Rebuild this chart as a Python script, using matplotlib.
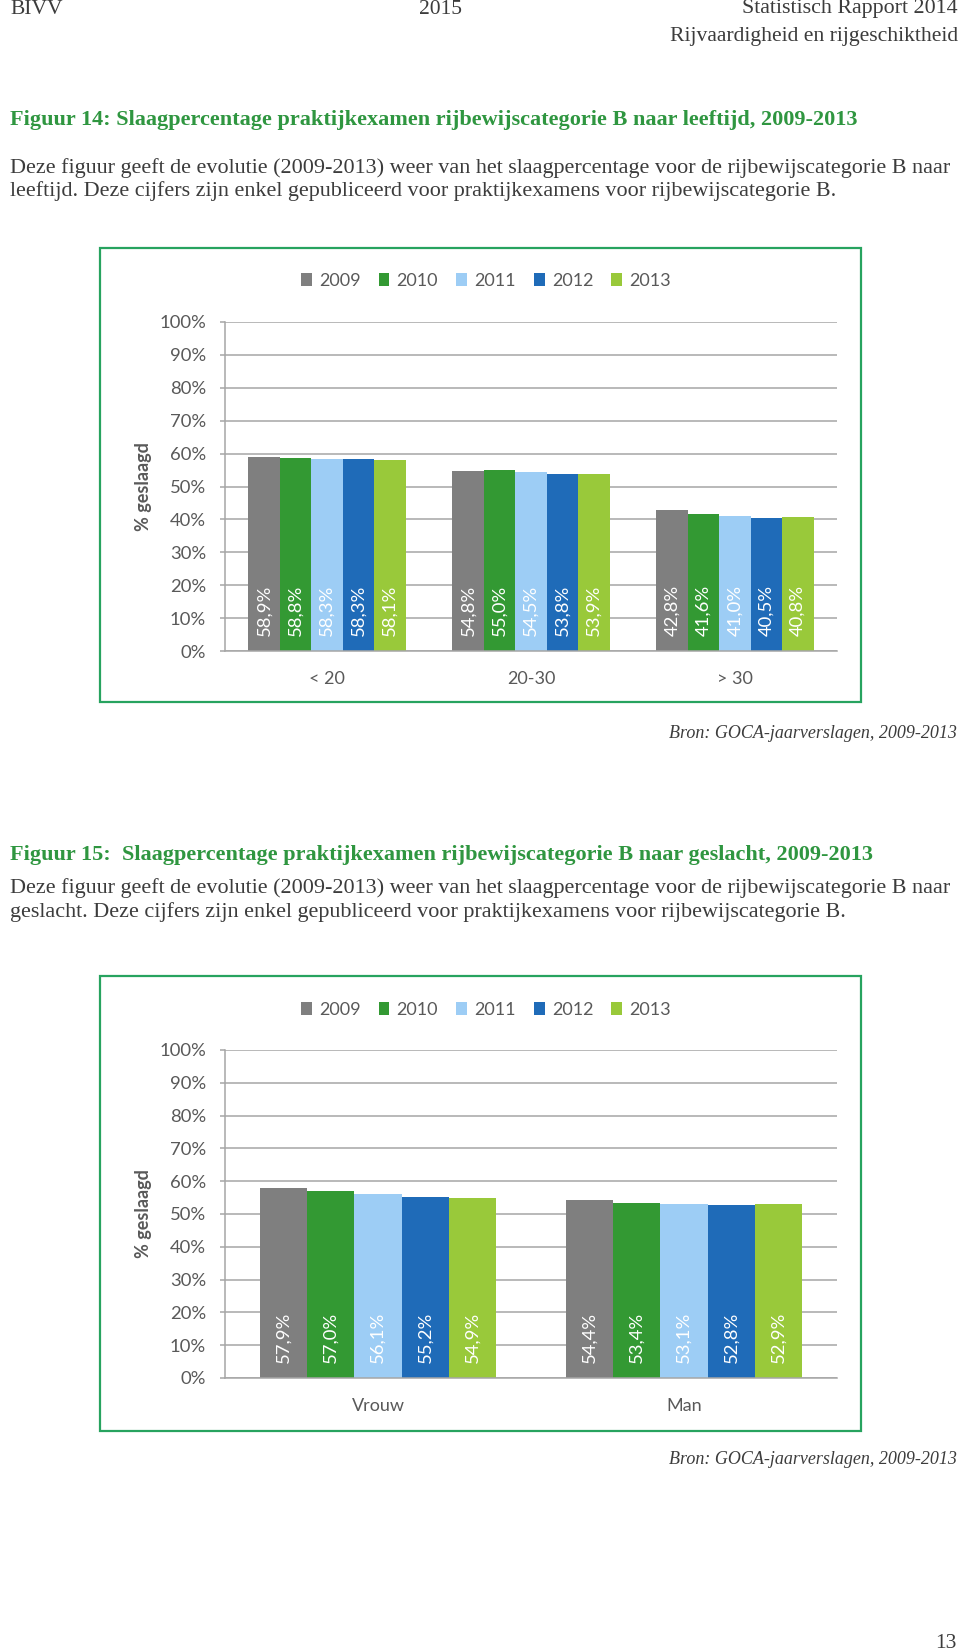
import numpy as np
import matplotlib
matplotlib.use("Agg")
import matplotlib.pyplot as plt
from matplotlib.patches import Rectangle, Patch
from matplotlib.ticker import MultipleLocator, FuncFormatter

# ---- data ----
years = ["2009", "2010", "2011", "2012", "2013"]
year_colors = ["#7F7F7F", "#339933", "#9DCDF5", "#1F6BB8", "#99C93A"]

leeftijd_cats = ["< 20", "20-30", "> 30"]
leeftijd_2009 = [58.9, 54.8, 42.8]
leeftijd_2010 = [58.8, 55.0, 41.6]
leeftijd_2011 = [58.3, 54.5, 41.0]
leeftijd_2012 = [58.3, 53.8, 40.5]
leeftijd_2013 = [58.1, 53.9, 40.8]

geslacht_cats = ["Vrouw", "Man"]
geslacht_2009 = [57.9, 54.4]
geslacht_2010 = [57.0, 53.4]
geslacht_2011 = [56.1, 53.1]
geslacht_2012 = [55.2, 52.8]
geslacht_2013 = [54.9, 52.9]

W, H = 960, 1652
GREEN_TXT = "#2F9640"
BOX = "#27A35F"
GRAY_TXT = "#595959"
GRID = "#A6A6A6"
SERIF = ["Liberation Serif", "DejaVu Serif"]
SANS = ["Lato", "DejaVu Sans"]


def fx(px):
    return px / W


def fy(px):
    return 1 - px / H


fig = plt.figure(figsize=(W / 100, H / 100), dpi=100)


def page_text(x, y, s, **kw):
    kw.setdefault("family", SERIF)
    kw.setdefault("color", "#3C3C3C")
    kw.setdefault("va", "center")
    fig.text(fx(x), fy(y), s, **kw)


# header
page_text(10, 9, "BIVV", fontsize=15.5)
page_text(441, 9, "2015", fontsize=15.5, ha="center")
page_text(958, 9, "Statistisch Rapport 2014", fontsize=15.8, ha="right")
page_text(958, 37, "Rijvaardigheid en rijgeschiktheid", fontsize=15.6, ha="right")

# figure 14 text
page_text(10, 120, "Figuur 14: Slaagpercentage praktijkexamen rijbewijscategorie B naar leeftijd, 2009-2013",
          fontsize=16.0, weight="bold", color=GREEN_TXT)
page_text(10, 168, "Deze figuur geeft de evolutie (2009-2013) weer van het slaagpercentage voor de rijbewijscategorie B naar",
          fontsize=15.9)
page_text(10, 191, "leeftijd. Deze cijfers zijn enkel gepubliceerd voor praktijkexamens voor rijbewijscategorie B.",
          fontsize=15.9)
page_text(957, 733, "Bron: GOCA-jaarverslagen, 2009-2013", fontsize=13, style="italic", ha="right")

# figure 15 text
page_text(10, 855, "Figuur 15:  Slaagpercentage praktijkexamen rijbewijscategorie B naar geslacht, 2009-2013",
          fontsize=16.0, weight="bold", color=GREEN_TXT)
page_text(10, 888, "Deze figuur geeft de evolutie (2009-2013) weer van het slaagpercentage voor de rijbewijscategorie B naar",
          fontsize=15.9)
page_text(10, 912, "geslacht. Deze cijfers zijn enkel gepubliceerd voor praktijkexamens voor rijbewijscategorie B.",
          fontsize=15.9)
page_text(957, 1460, "Bron: GOCA-jaarverslagen, 2009-2013", fontsize=13, style="italic", ha="right")
page_text(957, 1643, "13", fontsize=15.5, ha="right")


def draw_chart(box_top, box_bottom, y100, y0, legend_y, cats, series):
    # green frame around the chart
    fig.add_artist(Rectangle((fx(100), fy(box_bottom)), fx(861) - fx(100), fy(box_top) - fy(box_bottom),
                             transform=fig.transFigure, fill=False, edgecolor=BOX, lw=1.6))

    ax = fig.add_axes([fx(225), fy(y0), fx(837) - fx(225), fy(y100) - fy(y0)])
    n = len(cats)
    x = np.arange(n)
    width = 0.154
    for i, (vals, col) in enumerate(zip(series, year_colors)):
        pos = x + (i - 2) * width
        ax.bar(pos, vals, width=width, color=col, zorder=2)
        for p, v in zip(pos, vals):
            ax.text(p, 4.6, f"{v:.1f}%".replace(".", ","), rotation=90, ha="center", va="bottom",
                    color="white", fontsize=13.3, family=SANS, zorder=3)

    ax.set_xlim(-0.5, n - 0.5)
    ax.set_ylim(0, 100)
    ax.yaxis.set_major_locator(MultipleLocator(10))
    ax.yaxis.set_major_formatter(FuncFormatter(lambda v, _: f"{v:.0f}%"))
    ax.grid(axis="y", color=GRID, lw=1.1, zorder=0)
    for side in ("top", "right"):
        ax.spines[side].set_visible(False)
    for side in ("left", "bottom"):
        ax.spines[side].set_color(GRID)
        ax.spines[side].set_linewidth(1.1)
    ax.set_xticks(x)
    ax.set_xticklabels(cats)
    ax.tick_params(axis="x", length=0, pad=14.5, labelsize=13, labelcolor=GRAY_TXT)
    ax.tick_params(axis="y", length=3.6, width=1.1, color=GRID, pad=10, labelsize=13.3, labelcolor=GRAY_TXT)
    for lab in ax.get_xticklabels() + ax.get_yticklabels():
        lab.set_family(SANS)
    ax.set_ylabel("% geslaagd", family=SANS, weight="bold", fontsize=13, color=GRAY_TXT)
    ax.yaxis.set_label_coords(-0.119, 0.5)

    handles = [Patch(facecolor=c, edgecolor="none") for c in year_colors]
    fig.legend(handles, years, ncol=5, loc="center", bbox_to_anchor=(fx(486), fy(legend_y + 2)),
               frameon=False, handlelength=0.6, handleheight=0.7, handletextpad=0.4,
               columnspacing=1.0, prop={"family": SANS, "size": 13}, labelcolor=GRAY_TXT)
    return ax


draw_chart(248, 702, 322, 651, 279, leeftijd_cats,
           [leeftijd_2009, leeftijd_2010, leeftijd_2011, leeftijd_2012, leeftijd_2013])
draw_chart(976, 1431, 1050, 1378, 1008, geslacht_cats,
           [geslacht_2009, geslacht_2010, geslacht_2011, geslacht_2012, geslacht_2013])

fig.savefig("out.png", dpi=100)
